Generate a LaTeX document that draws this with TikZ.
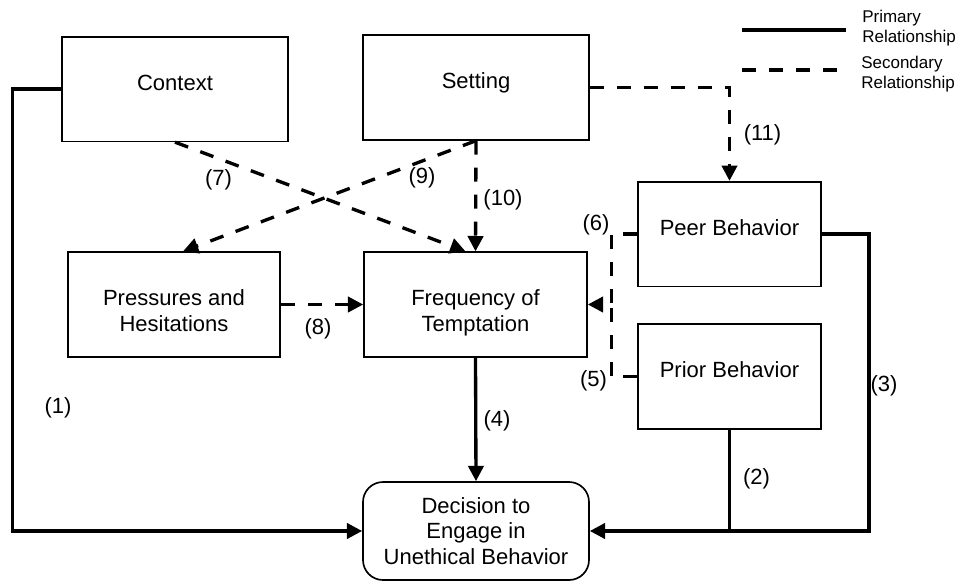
\documentclass[tikz,border=0pt]{standalone}
\usepackage{fontspec}
\setmainfont{Liberation Sans}
\usetikzlibrary{arrows.meta}
\begin{document}
\begin{tikzpicture}[x=0.75pt,y=-0.75pt,>={Triangle[length=11.5pt,width=11.5pt]}]
\tikzstyle{every node}=[font=\fontsize{16.5}{19}\selectfont]
\tikzstyle{box}=[draw,rectangle,line width=1.25pt,minimum height=78.5pt,inner sep=0pt,align=center]
\tikzstyle{one}=[text height=12pt,text depth=10pt]
\tikzstyle{two}=[text height=40pt,text depth=0pt]
\tikzstyle{lab}=[inner sep=0pt]
\tikzstyle{prim}=[line width=2.5pt]
\tikzstyle{sec}=[line width=2.5pt,dash pattern=on 10.5pt off 9.75pt]
\useasboundingbox (0,0) rectangle (960,583);
\node[box,one,minimum width=169.5pt](ctx) at (175,89) {Context};
\node[box,one,minimum width=169.5pt](set) at (476,87.5) {Setting};
\node[box,one,minimum width=137.25pt](peer) at (729.5,234) {Peer Behavior};
\node[box,one,minimum width=137.25pt](prior) at (729.5,376.5) {Prior Behavior};
\node[box,two,minimum width=159pt](press) at (174,304.5) {Pressures and\\Hesitations};
\node[box,two,minimum width=167.25pt](freq) at (475.5,304.5) {Frequency of\\Temptation};
\node[box,rounded corners=15pt,minimum width=169.5pt,minimum height=73.5pt](dec) at (476,531) {Decision to\\Engage in\\Unethical Behavior};
% primary
\draw[prim,->] (ctx.west) -- ++(-49,0) |- (dec.west);
\draw[line width=1.9pt] (prior.south) -- (prior.south |- dec.east);
\draw[prim,->] (peer.east) -- ++(47,0) |- (dec.east);
\draw[prim,->] (freq.south) -- (dec.north);
% secondary
\draw[sec,->] (ctx.south) -- ([xshift=-7.5pt]freq.north);
\draw[sec,->] (set.south) -- ([xshift=6.75pt]press.north);
\draw[sec,->] (set.south) -- (freq.north);
\draw[sec,->] (press.east) -- (freq.west);
\draw[sec,->] (set.east) -| (peer.north);
\draw[sec] (peer.west) -- ++(-26,0) coordinate (m6) -- (m6 |- freq.east);
\draw[sec,->] (prior.west) -- ++(-26,0) |- (freq.east);
% numbers
\node[lab](l1) at (58,408) {(1)};
\node[lab](l2) at (756.5,479) {(2)};
\node[lab](l3) at (884,386) {(3)};
\node[lab](l4) at (497,421) {(4)};
\node[lab](l5) at (593.5,381) {(5)};
\node[lab](l6) at (596,225) {(6)};
\node[lab](l7) at (218.5,180) {(7)};
\node[lab](l8) at (318,329) {(8)};
\node[lab](l9) at (422,178) {(9)};
\node[lab](l10) at (503,200) {(10)};
\node[lab](l11) at (762.5,135) {(11)};
% legend
\coordinate (pa) at (742,30);
\coordinate (pb) at (846,30);
\coordinate (sa) at (742,70);
\coordinate (sb) at (842,70);
\draw[prim] (pa) -- (pb);
\draw[sec] (sa) -- (sb);
\node[lab,anchor=west,align=left,font=\fontsize{12.75}{15}\selectfont](lp) at (862,28) {Primary\\Relationship};
\node[lab,anchor=west,align=left,font=\fontsize{12.75}{15}\selectfont](ls) at (861,74) {Secondary\\Relationship};
\end{tikzpicture}
\end{document}
